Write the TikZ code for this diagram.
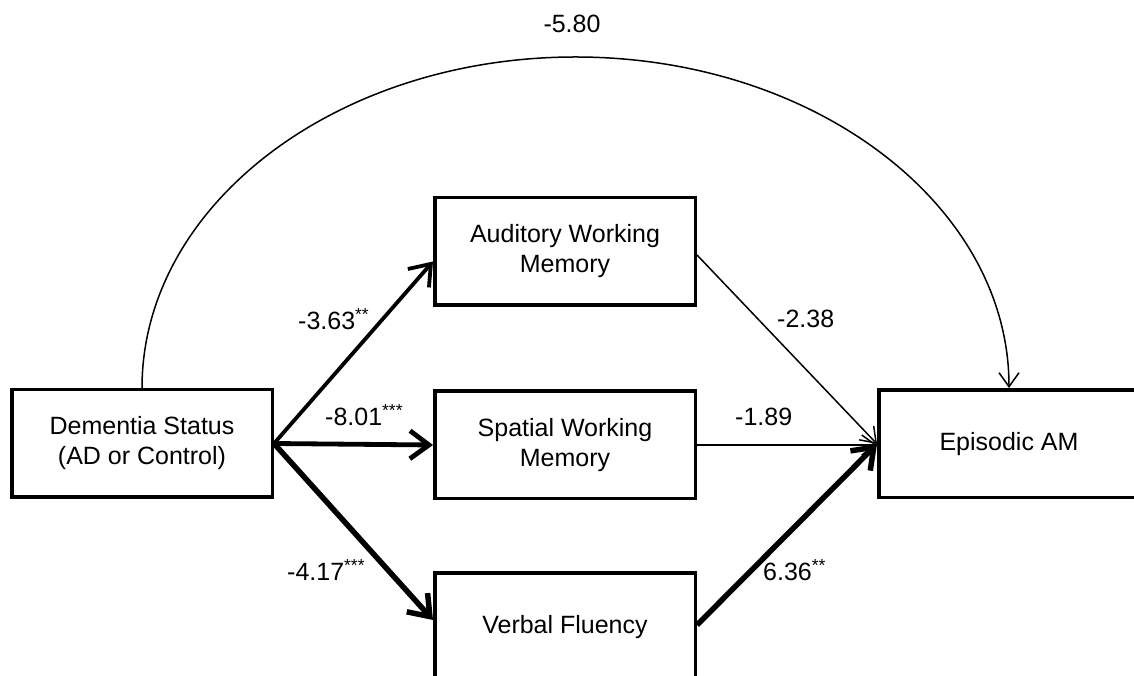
\documentclass[tikz,border=0pt]{standalone}
\usepackage{fontspec}
\setmainfont{Liberation Sans}
\usetikzlibrary{arrows.meta}
\begin{document}
\begin{tikzpicture}[x=1pt,y=1pt,
  box/.style={draw, fill=white, line width=3.5pt, minimum width=260.5pt, minimum height=107.5pt,
    inner sep=0pt, align=center, font=\fontsize{25}{30}\selectfont},
  lab/.style={inner sep=0pt, anchor=base west, font=\fontsize{25}{30}\selectfont},
  heavyarrow/.style={line width=4.5pt, -{Straight Barb[length=19pt,width=28pt]}},
  lightarrow/.style={line width=1.5pt, -{Straight Barb[length=14pt,width=20pt]}}
]
\useasboundingbox (0,0) rectangle (1134,676);
\fill[white] (0,0) rectangle (1134,676);
\clip (0,0) rectangle (1134,676);

\node[box] (dem) at (142,232.5) {Dementia Status\\(AD or Control)};
\node[box] (aud) at (565,424.5) {Auditory Working\\Memory};
\node[box] (spa) at (565,231) {Spatial Working\\Memory};
\node[box] (ver) at (565,49) {Verbal Fluency};
\node[box] (epi) at (1009,232) {Episodic AM};

% direct path arc
\draw[lightarrow] (dem.north) arc[start angle=180, end angle=0, x radius=433.5, y radius=331];

% a paths
\draw[heavyarrow, line width=3.8pt] (dem.east) -- ([yshift=-10pt]aud.west);
\draw[heavyarrow, line width=4.8pt] (dem.east) -- (spa.west);
\draw[heavyarrow, line width=5.5pt] (dem.east) -- ([yshift=7pt]ver.west);

% b paths
\draw[lightarrow] ([yshift=-3.5pt]aud.east) -- (epi.west);
\draw[lightarrow] (spa.east) -- (spa.east -| epi.west);
\draw[heavyarrow, line width=5.5pt] ([yshift=2pt]ver.east) -- (epi.west);

% labels
\node[lab, anchor=base] (l0) at (572,643) {-5.80};
\node[lab] (l1) at (298,346) {-3.63\textsuperscript{**}};
\node[lab] (l2) at (325,250) {-8.01\textsuperscript{***}};
\node[lab] (l3) at (287,95) {-4.17\textsuperscript{***}};
\node[lab] (l4) at (777,348) {-2.38};
\node[lab] (l5) at (735,250) {-1.89};
\node[lab] (l6) at (763,95) {6.36\textsuperscript{**}};
\end{tikzpicture}
\end{document}
